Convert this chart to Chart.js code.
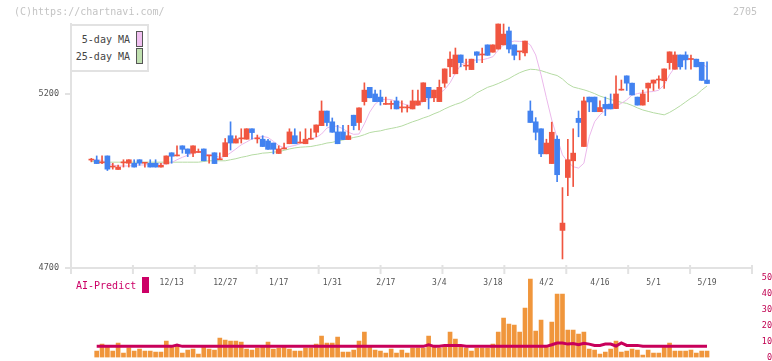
<!DOCTYPE html>
<html>
<head>
<meta charset="utf-8">
<script src="https://cdn.jsdelivr.net/npm/chart.js@4/dist/chart.umd.min.js"></script>
<style>
body{margin:0;background:#fff;width:772px;height:361px;overflow:hidden;position:relative;font-family:'DejaVu Sans Mono',monospace}
#main{position:absolute;left:0;top:0;z-index:2}
#vol{position:absolute;left:0;top:270px;z-index:1}
.t{position:absolute;white-space:pre;font-size:10px;line-height:12px;z-index:3}
.sw{position:absolute;z-index:3;box-sizing:border-box;border:1px solid #555}
</style>
</head>
<body>
<canvas id="vol" width="772" height="91" style="width:772px;height:91px"></canvas>
<canvas id="main" width="772" height="300" style="width:772px;height:300px"></canvas>

<div class="t" style="left:14px;top:6px;color:#c4c4c4">(C)https://chartnavi.com/</div>
<div class="t" style="right:15px;top:6px;color:#c4c4c4">2705</div>

<div style="position:absolute;left:70px;top:24px;width:75px;height:44px;border:2px solid #e2e2e2;background:#fff;z-index:3"></div>
<div class="t" style="right:642px;top:34px;color:#444">5-day MA</div>
<div class="t" style="right:642px;top:51px;color:#444">25-day MA</div>
<div class="sw" style="left:136px;top:31px;width:7px;height:16px;background:#f0c0f0"></div>
<div class="sw" style="left:136px;top:48px;width:7px;height:16px;background:#c0e0b0"></div>

<div class="t" style="left:76px;top:280px;color:#cc0066">AI-Predict</div>
<div style="position:absolute;left:142px;top:277px;width:7px;height:16px;background:#cc0066;z-index:3"></div>

<script>
// date labels shown under the chart (candle index -> label)
const dateLabels = ['12/13', '12/27', '1/17', '1/31', '2/17', '3/4', '3/18', '4/2', '4/16', '5/1', '5/19'];
const dateIdx = [15, 25, 35, 45, 55, 65, 75, 85, 95, 105, 115];
const priceTicks = [4700, 5200];

const opens = [5010,5010,5002,5022,4990,4983,5002,5001,5001,5011,
  5001,5001,5001,4990,4999,5031,5022,5051,5042,5030,
  5032,5042,5022,5031,5011,5020,5080,5059,5071,5070,
  5100,5071,5070,5065,5059,5029,5042,5057,5080,5059,
  5057,5070,5090,5109,5151,5120,5091,5091,5069,5139,
  5118,5178,5219,5200,5191,5170,5170,5180,5160,5160,
  5157,5168,5178,5219,5189,5178,5231,5278,5258,5312,
  5280,5270,5321,5312,5341,5320,5329,5341,5381,5341,
  5321,5318,5151,5120,5100,5028,5000,5070,4808,4960,
  5008,5130,5049,5191,5191,5149,5170,5171,5158,5211,
  5252,5231,5191,5168,5217,5231,5240,5238,5290,5271,
  5312,5312,5299,5300,5291,5240];
const highs = [5015,5022,5022,5022,5001,4996,5011,5011,5011,5011,
  5001,5011,5011,5001,5022,5031,5051,5051,5042,5051,
  5042,5042,5022,5031,5031,5072,5120,5080,5100,5100,
  5100,5082,5080,5070,5059,5051,5059,5100,5100,5091,
  5100,5100,5111,5180,5151,5131,5110,5110,5110,5139,
  5160,5232,5219,5211,5211,5191,5180,5191,5180,5168,
  5211,5211,5232,5219,5211,5240,5272,5321,5332,5312,
  5300,5300,5321,5332,5341,5341,5401,5401,5392,5341,
  5321,5352,5180,5132,5100,5070,5119,5080,4931,5070,
  5100,5151,5191,5191,5191,5180,5191,5200,5252,5240,
  5252,5231,5191,5211,5231,5240,5252,5272,5321,5321,
  5312,5321,5312,5300,5291,5292];
const lows = [5005,5000,5000,4980,4984,4983,4990,4990,4990,4995,
  4990,4990,4990,4990,4999,5001,5022,5030,5020,5020,
  5032,5008,5001,5000,5011,5020,5039,5059,5059,5070,
  5070,5059,5049,5041,5028,5029,5042,5057,5057,5059,
  5057,5070,5077,5109,5108,5090,5057,5069,5069,5097,
  5097,5168,5189,5178,5168,5170,5157,5157,5148,5148,
  5157,5168,5178,5157,5178,5178,5219,5250,5258,5278,
  5269,5270,5290,5290,5311,5320,5329,5341,5318,5298,
  5298,5309,5118,5068,5020,5028,5000,4948,4726,4908,
  4934,5077,5049,5149,5149,5149,5138,5157,5158,5211,
  5210,5197,5168,5168,5178,5210,5216,5216,5271,5271,
  5271,5271,5271,5278,5239,5230];
const closes = [5010,5000,5002,4984,4990,4990,5002,5011,4990,5001,
  5001,4990,4990,4995,5022,5021,5022,5041,5029,5051,
  5032,5008,5022,5000,5011,5060,5059,5071,5071,5100,
  5089,5071,5049,5041,5041,5042,5042,5091,5057,5059,
  5070,5070,5111,5151,5118,5090,5057,5069,5080,5109,
  5160,5211,5189,5178,5178,5170,5170,5157,5160,5160,
  5180,5180,5232,5189,5211,5219,5272,5300,5312,5290,
  5280,5300,5311,5312,5311,5341,5401,5372,5329,5311,
  5321,5352,5118,5090,5028,5059,5090,4968,4829,5011,
  5030,5118,5180,5177,5149,5161,5158,5157,5200,5211,
  5231,5197,5168,5200,5231,5240,5240,5272,5321,5312,
  5278,5298,5299,5278,5239,5230];
const ma5 = [5010,5011,5009,5003,4996,4993,4993,4993,4995,4996,
  4996,4998,4999,4999,4999,5003,5011,5018,5024,5030,
  5033,5029,5025,5024,5017,5021,5031,5042,5054,5062,
  5071,5075,5078,5075,5064,5052,5045,5049,5052,5057,
  5065,5071,5075,5085,5102,5108,5107,5100,5090,5084,
  5085,5114,5148,5171,5183,5185,5184,5178,5173,5168,
  5166,5168,5178,5187,5191,5201,5213,5232,5260,5283,
  5290,5295,5298,5298,5302,5307,5326,5341,5348,5352,
  5351,5350,5341,5312,5255,5189,5125,5074,5025,5005,
  4991,4987,5001,5077,5120,5140,5153,5160,5166,5173,
  5183,5197,5201,5204,5206,5207,5211,5226,5255,5277,
  5292,5300,5302,5298,5287,5277];
const ma25 = [5006,5005,5005,5004,5004,5004,5004,5004,5004,5004,
  5004,5004,5004,5004,5004,5004,5004,5004,5004,5004,
  5004,5006,5008,5008,5008,5008,5011,5014,5018,5021,
  5025,5027,5030,5031,5033,5034,5038,5042,5045,5047,
  5048,5049,5052,5055,5059,5061,5065,5068,5071,5075,
  5078,5083,5089,5092,5094,5098,5101,5104,5108,5114,
  5120,5125,5131,5136,5143,5149,5157,5164,5170,5175,
  5183,5192,5203,5211,5219,5224,5230,5237,5244,5253,
  5261,5267,5271,5270,5267,5262,5257,5253,5243,5229,
  5220,5216,5212,5207,5201,5194,5189,5184,5180,5176,
  5173,5167,5160,5154,5150,5146,5143,5140,5147,5156,
  5166,5177,5188,5197,5211,5223];
const volume = [null,4.2,8.5,6.5,4.2,9.2,2.9,6.2,4.2,5.4,
  4.2,4.2,3.5,3.5,10.4,6.5,7.3,2.9,4.8,5.4,
  2.3,6.5,5.4,4.8,12.3,11,10.4,10.4,9.8,5.4,
  4.8,6,6.5,9.8,5.4,6,7.3,5.4,4.2,4.2,
  6,6,8.5,13.5,9.2,9.2,12.9,3.5,3.5,4.8,
  10.4,16,6.5,4.8,4.2,2.9,5.4,2.9,4.8,2.9,
  6,6,6,13.5,7.3,6,7.3,16,11.7,7.3,
  6,4.2,6,6,6,8.5,16,24.8,21,20.4,
  16,31,49.2,16.7,23.5,7.3,22.3,39.8,39.8,17.3,
  17.3,14.8,16,5.4,4.8,2.3,3.5,5.4,10.4,3.5,
  4.2,5.4,4.8,1.7,4.8,2.9,2.9,6.7,9.2,4.2,
  4.2,4.2,4.8,2.9,4.2,4.2];
const aiPredict = [null,7.1,7.1,7.1,7.1,7.1,7.1,7.1,7.1,7.1,
  7.1,7.1,7.1,7.1,7.1,7.1,7.9,7.1,7.1,7.1,
  7.1,7.1,7.1,7.1,7.1,7.1,7.1,7.1,7.1,7.1,
  7.1,7.1,7.1,7.1,7.1,7.1,7.1,7.1,7.1,7.1,
  7.1,7.1,7.1,7.1,7.1,7.1,7.1,7.1,7.1,7.1,
  7.1,7.1,7.1,7.1,7.1,7.1,7.1,7.1,7.1,7.1,
  7.1,7.1,7.1,8.1,7.1,7.1,7.7,7.7,7.7,7.7,
  7.1,7.1,7.1,7.1,7.1,7.1,7.1,7.1,7.1,7.1,
  7.1,7.1,7.1,7.1,7.1,7.1,8.1,9.2,9.2,8.5,
  8.8,8.1,9.0,8.5,7.7,7.7,8.5,8.5,7.3,9.2,
  7.7,7.7,7.7,7.1,7.1,7.1,7.1,7.1,7.1,7.1,
  7.1,7.1,7.1,7.1,7.1,7.1];

const UP = '#f05540', DOWN = '#4282f0';
const candleColors = opens.map((o, i) => closes[i] >= o ? UP : DOWN);
const xMin = -3.8, xMax = 123.4;
const mono = 'DejaVu Sans Mono';
const xy = arr => arr.map((v, i) => ({x: i, y: v}));

// short tick marks across the bottom axis (11 equal parts)
const axisTicks = {
  id: 'axisTicks',
  afterDraw(chart) {
    const {ctx, chartArea: a} = chart;
    ctx.save();
    ctx.strokeStyle = '#e2e2e2';
    ctx.lineWidth = 2;
    for (let k = 0; k <= 11; k++) {
      const x = a.left + k * (a.right - a.left) / 11;
      ctx.beginPath();
      ctx.moveTo(x, a.bottom - 3);
      ctx.lineTo(x, a.bottom + 6);
      ctx.stroke();
    }
    ctx.restore();
  }
};

new Chart(document.getElementById('main'), {
  data: {
    datasets: [
      {type: 'line', data: xy(ma25), borderColor: '#b5dba3', borderWidth: 1, pointRadius: 0, order: 4},
      {type: 'line', data: xy(ma5), borderColor: '#ebb8eb', borderWidth: 1, pointRadius: 0, order: 3},
      {type: 'bar', data: highs.map((h, i) => ({x: i, y: [lows[i], h]})), backgroundColor: candleColors,
        barThickness: 1, grouped: false, order: 2},
      {type: 'bar', data: opens.map((o, i) => ({x: i, y: [o, closes[i]]})), backgroundColor: candleColors,
        barThickness: 5, minBarLength: 1, grouped: false, order: 1}
    ]
  },
  options: {
    responsive: false,
    animation: false,
    events: [],
    clip: false,
    layout: {padding: {left: 0, right: 20, top: 24, bottom: 0}},
    plugins: {legend: {display: false}, tooltip: {enabled: false}},
    scales: {
      x: {
        type: 'linear', min: xMin, max: xMax, offset: false,
        grid: {display: false, drawTicks: false},
        border: {color: '#e2e2e2', width: 2},
        afterBuildTicks: a => { a.ticks = dateIdx.map(v => ({value: v})); },
        afterFit: a => { a.height = 32; },
        ticks: {
          autoSkip: false, maxRotation: 0, padding: 10, color: '#555',
          font: {family: mono, size: 8},
          callback: v => dateLabels[dateIdx.indexOf(v)]
        }
      },
      y: {
        min: 4700, max: 5401,
        afterBuildTicks: a => { a.ticks = priceTicks.map(v => ({value: v})); },
        afterFit: a => { a.width = 71; },
        grid: {drawOnChartArea: false, tickLength: 6, color: '#e2e2e2', lineWidth: 2},
        border: {color: '#e2e2e2', width: 2},
        ticks: {padding: 6, color: '#555', font: {family: mono, size: 8.5}, callback: v => String(v)}
      }
    }
  },
  plugins: [axisTicks]
});

new Chart(document.getElementById('vol'), {
  data: {
    datasets: [
      {type: 'line', data: xy(aiPredict), borderColor: '#c8005a', borderWidth: 3, pointRadius: 0, order: 1},
      {type: 'bar', data: xy(volume), backgroundColor: '#f0963c', barThickness: 4, grouped: false, order: 2}
    ]
  },
  options: {
    responsive: false,
    animation: false,
    events: [],
    layout: {autoPadding: false, padding: {left: 71, right: 0, top: 7.7, bottom: 3.3}},
    plugins: {legend: {display: false}, tooltip: {enabled: false}},
    scales: {
      x: {type: 'linear', min: xMin, max: xMax, offset: false, display: false},
      y: {
        position: 'right', min: 0, max: 50,
        afterFit: a => { a.width = 20; },
        grid: {drawOnChartArea: false, drawTicks: true, tickLength: 6, color: 'rgba(0,0,0,0)'},
        border: {display: false},
        ticks: {stepSize: 10, padding: 0, crossAlign: 'far', color: '#c00050',
          font: {family: mono, size: 8.5, lineHeight: 0.6}}
      }
    }
  }
});
</script>
</body>
</html>
